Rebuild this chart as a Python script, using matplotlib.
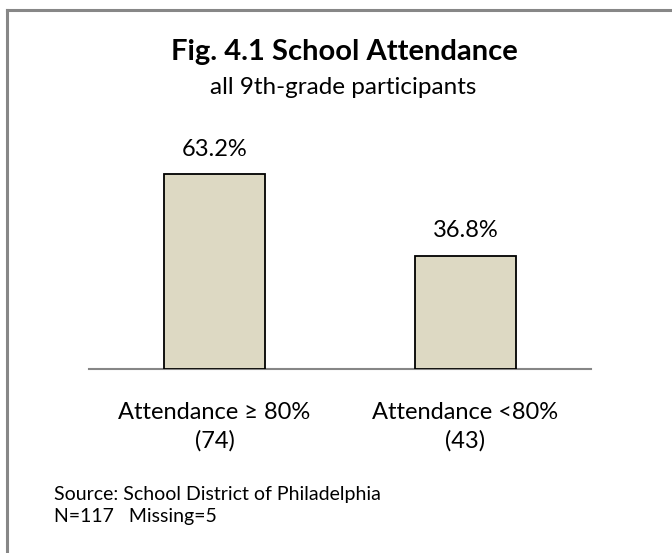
import matplotlib
matplotlib.use("Agg")
import matplotlib.pyplot as plt
from matplotlib.lines import Line2D

plt.rcParams['font.family'] = ['Lato', 'DejaVu Sans']

# Data
categories = ["Attendance \u2265 80%", "Attendance <80%"]
counts = [74, 43]
percents = [63.2, 36.8]
title = "Fig. 4.1 School Attendance"
subtitle = "all 9th-grade participants"
source_lines = ["Source: School District of Philadelphia", "N=117   Missing=5"]

W, H = 672, 553
fig = plt.figure(figsize=(W / 100, H / 100), dpi=100)
fig.patch.set_facecolor("white")


def fy(px_from_top):
    return 1 - px_from_top / H


def fx(px):
    return px / W


# Chart frame: left and top edges (right and bottom run off the canvas)
frame_kw = dict(transform=fig.transFigure, color="#878787", linewidth=2.2,
                solid_capstyle="projecting")
fig.add_artist(Line2D([fx(7), fx(7)], [fy(10), fy(H + 5)], **frame_kw))
fig.add_artist(Line2D([fx(7), fx(W + 5)], [fy(10), fy(10)], **frame_kw))

# Plot area
ax_left, ax_right = 89, 591
base_px = 369
ymax = 70
px_per_unit = 3.08
ax = fig.add_axes([fx(ax_left), fy(base_px), fx(ax_right - ax_left),
                   ymax * px_per_unit / H])
ax.set_xlim(-0.5, 1.5)
ax.set_ylim(0, ymax)
ax.patch.set_alpha(0)

x = list(range(len(categories)))
ax.bar(x, percents, width=0.4, color="#DDD9C3", edgecolor="black",
       linewidth=1.3, zorder=3)

for xi, p in zip(x, percents):
    ax.annotate(f"{p:.1f}%", (xi, p), xytext=(0, 13.5), textcoords="offset points",
                ha="center", va="baseline", fontsize=17, color="black")

for s in ["top", "right", "left"]:
    ax.spines[s].set_visible(False)
ax.spines["bottom"].set_color("#868686")
ax.spines["bottom"].set_linewidth(1.5)
ax.set_yticks([])
ax.set_xticks(x)
ax.set_xticklabels([f"{c}\n({n})" for c, n in zip(categories, counts)],
                   fontsize=17, color="black", linespacing=1.36)
ax.tick_params(axis="x", length=0, pad=24)

# Titles
fig.text(fx(344), fy(60), title, ha="center", va="baseline",
         fontsize=21, fontweight="bold", color="black")
fig.text(fx(343), fy(94), subtitle, ha="center", va="baseline",
         fontsize=17.5, color="black")

# Source notes
fig.text(fx(54), fy(500), source_lines[0], ha="left", va="baseline",
         fontsize=14, color="black")
fig.text(fx(54), fy(522), source_lines[1], ha="left", va="baseline",
         fontsize=14, color="black")

fig.savefig("out.png", dpi=100, facecolor="white")
